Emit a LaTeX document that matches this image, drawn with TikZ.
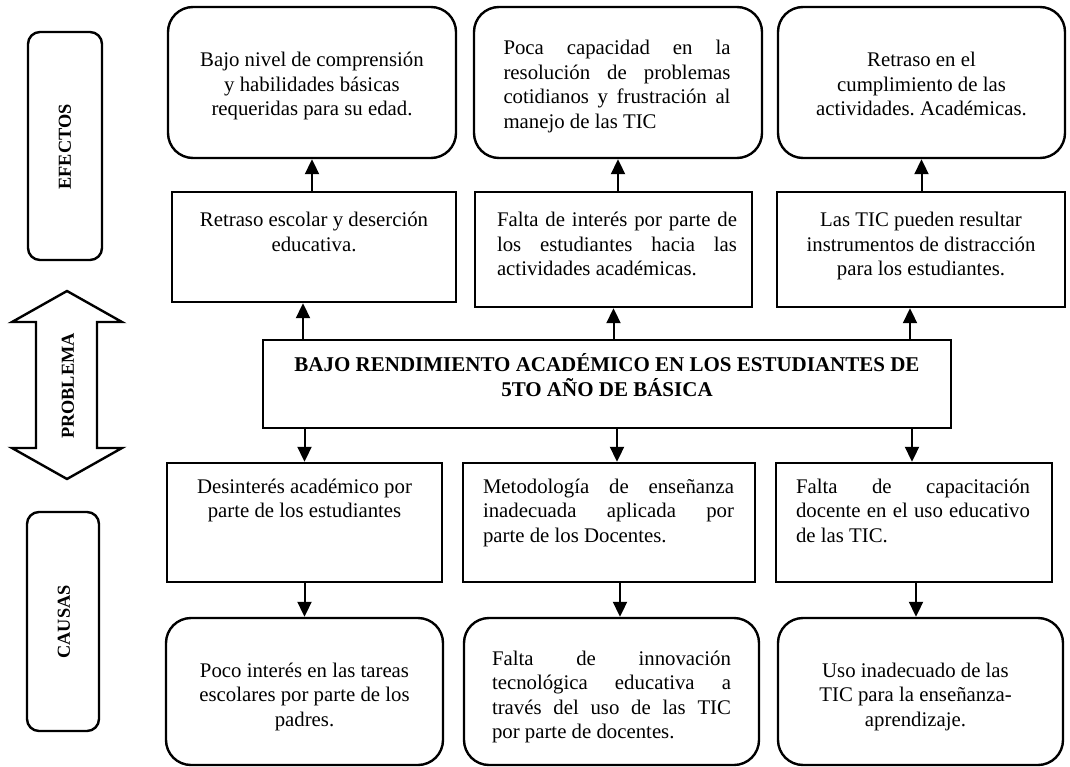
\documentclass[tikz,border=0pt]{standalone}
\usepackage{fontspec}
\setmainfont{Liberation Serif}
\usetikzlibrary{arrows.meta}
\frenchspacing

\newcommand{\jline}[1]{\makebox[\linewidth][s]{#1}}

\begin{document}
\begin{tikzpicture}[x=1pt,y=-1pt,
  frame/.style={draw, line width=2.4pt, inner sep=0pt, rectangle},
  sqbox/.style={frame},
  rbox/.style={frame, rounded corners=25pt},
  tagbox/.style={frame, rounded corners=12pt},
  arr/.style={line width=2pt, -{Triangle[width=14pt,length=15pt]}},
  txt/.style={inner sep=0pt, anchor=base, font=\fontsize{20.8}{24.5}\selectfont},
  tag/.style={inner sep=0pt, rotate=90, font=\bfseries\fontsize{18.3}{20}\selectfont},
]
\fill[white] (0,0) rectangle (1070,767);
\useasboundingbox (0,0) rectangle (1070,767);

% ---- side labels ----
\node[tagbox, minimum width=74pt, minimum height=228pt] (bxE) at (65,146) {};
\node[tag] (lblE) at (65,147) {EFECTOS};
\draw[line width=2.4pt, line join=miter]
  (67,291) -- (122,322) -- (97,322) -- (97,448) -- (122,448) -- (67,479)
  -- (12,448) -- (36,448) -- (36,322) -- (12,322) -- cycle;
\node[tag] (lblP) at (68,386) {PROBLEMA};
\node[tagbox, minimum width=72pt, minimum height=219pt] (bxC) at (63,621.5) {};
\node[tag] (lblC) at (64,622) {CAUSAS};

% ---- effects, first row ----
\node[rbox, minimum width=288pt, minimum height=151pt] (e1a) at (312,82.5) {};
\node[rbox, minimum width=288pt, minimum height=151pt] (e1b) at (618,82.5) {};
\node[rbox, minimum width=287pt, minimum height=151pt] (e1c) at (921.5,82.5) {};
\node[txt] (t1a) at (312,67) {\parbox[t]{270pt}{\centering Bajo nivel de comprensión\\ y habilidades básicas\\ requeridas para su edad.}};
\node[txt] (t1b) at (617,55) {\parbox[t]{227pt}{\jline{Poca capacidad en la}\\ \jline{resolución de problemas}\\ \jline{cotidianos y frustración al}\\ manejo de las TIC}};
\node[txt] (t1c) at (921.5,67) {\parbox[t]{270pt}{\centering Retraso en el\\ cumplimiento de las\\ actividades. Académicas.}};

% ---- effects, second row ----
\node[sqbox, minimum width=284pt, minimum height=110pt] (e2a) at (314,247) {};
\node[sqbox, minimum width=277pt, minimum height=115pt] (e2b) at (613.5,249.5) {};
\node[sqbox, minimum width=288pt, minimum height=115pt] (e2c) at (921,249.5) {};
\node[txt] (t2a) at (314,227) {\parbox[t]{270pt}{\centering Retraso escolar y deserción\\ educativa.}};
\node[txt] (t2b) at (617,227) {\parbox[t]{240pt}{\jline{Falta de interés por parte de}\\ \jline{los estudiantes hacia las}\\ actividades académicas.}};
\node[txt] (t2c) at (921,227) {\parbox[t]{270pt}{\centering Las TIC pueden resultar\\ instrumentos de distracción\\ para los estudiantes.}};

% ---- problem ----
\node[sqbox, minimum width=688pt, minimum height=88pt] (cen) at (607,384) {};
\node[txt, font=\bfseries\fontsize{21}{25}\selectfont] (tcen) at (607,371) {\parbox[t]{670pt}{\centering BAJO RENDIMIENTO ACADÉMICO EN LOS ESTUDIANTES DE\\ 5TO AÑO DE BÁSICA}};

% ---- causes, first row ----
\node[sqbox, minimum width=275pt, minimum height=119pt] (c3a) at (304.5,522.5) {};
\node[sqbox, minimum width=292pt, minimum height=119pt] (c3b) at (609,522.5) {};
\node[sqbox, minimum width=276pt, minimum height=119pt] (c3c) at (914,522.5) {};
\node[txt] (t3a) at (304.5,493) {\parbox[t]{265pt}{\centering Desinterés académico por\\ parte de los estudiantes}};
\node[txt] (t3b) at (608.5,493) {\parbox[t]{251pt}{\jline{Metodología de enseñanza}\\ \jline{inadecuada aplicada por}\\ parte de los Docentes.}};
\node[txt] (t3c) at (913,493) {\parbox[t]{234pt}{\jline{Falta de capacitación}\\ \jline{docente en el uso educativo}\\ de las TIC.}};

% ---- causes, second row ----
\node[rbox, minimum width=277pt, minimum height=147pt] (c4a) at (304.5,691.5) {};
\node[rbox, minimum width=295pt, minimum height=147pt] (c4b) at (611.5,691.5) {};
\node[rbox, minimum width=285pt, minimum height=147pt] (c4c) at (920.5,691.5) {};
\node[txt] (t4a) at (304.5,677) {\parbox[t]{265pt}{\centering Poco interés en las tareas\\ escolares por parte de los\\ padres.}};
\node[txt] (t4b) at (611.5,665) {\parbox[t]{239pt}{\jline{Falta de innovación}\\ \jline{tecnológica educativa a}\\ \jline{través del uso de las TIC}\\ por parte de docentes.}};
\node[txt] (t4c) at (915.5,677) {\parbox[t]{265pt}{\centering Uso inadecuado de las\\ TIC para la enseñanza-\\ aprendizaje.}};

% ---- connectors ----
\draw[arr] (e1a.south |- e2a.north) -- (e1a.south);
\draw[arr] (e1b.south |- e2b.north) -- (e1b.south);
\draw[arr] (e1c.south |- e2c.north) -- (e1c.south);

\draw[arr] ([xshift=-11pt]e2a.south |- cen.north) -- ([xshift=-11pt]e2a.south);
\draw[arr] (e2b.south |- cen.north) -- (e2b.south);
\draw[arr] ([xshift=-11pt]e2c.south |- cen.north) -- ([xshift=-11pt]e2c.south);

\draw[arr] (c3a.north |- cen.south) -- (c3a.north);
\draw[arr] ([xshift=8pt]c3b.north |- cen.south) -- ([xshift=8pt]c3b.north);
\draw[arr] ([xshift=-2pt]c3c.north |- cen.south) -- ([xshift=-2pt]c3c.north);

\draw[arr] (c3a.south) -- (c3a.south |- c4a.north);
\draw[arr] ([xshift=11pt]c3b.south) -- ([xshift=11pt]c3b.south |- c4b.north);
\draw[arr] ([xshift=2pt]c3c.south) -- ([xshift=2pt]c3c.south |- c4c.north);
\end{tikzpicture}
\end{document}
